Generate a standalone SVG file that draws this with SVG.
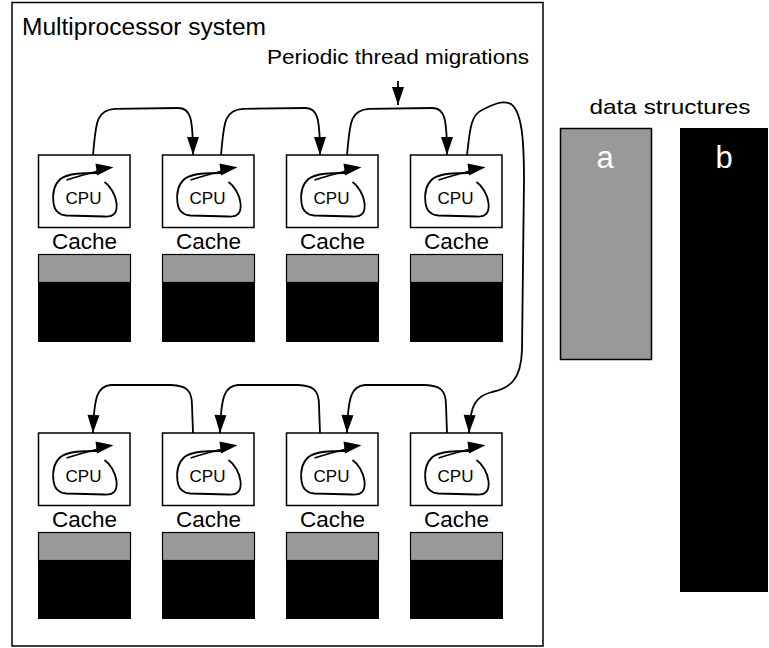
<svg xmlns="http://www.w3.org/2000/svg" xmlns:xlink="http://www.w3.org/1999/xlink" width="769" height="648" viewBox="0 0 769 648">
<style>
  text { font-family: "Liberation Sans", Arial, Helvetica, sans-serif; fill: #000; }
  .box { fill: #fff; stroke: #000; stroke-width: 1.5; }
  .loop { fill: none; stroke: #000; stroke-width: 1.8; }
  .cpu { font-size: 17px; text-anchor: middle; }
  .cache { font-size: 22px; text-anchor: middle; }
  .gray { fill: #999; stroke: #000; stroke-width: 1.2; }
  .blk { fill: #000; }
  .conn { fill: none; stroke: #000; stroke-width: 1.8; marker-end: url(#ah); }
</style>
<defs>
  <marker id="ah" markerUnits="userSpaceOnUse" markerWidth="18" markerHeight="12" refX="18" refY="6" orient="auto" overflow="visible">
    <path d="M0,0 L18,6 L0,12 z" fill="#000"/>
  </marker>
  <g id="cpuunit">
    <rect class="box" x="0" y="0" width="91.5" height="72.5"/>
    <path class="loop" d="M 59 18 C 45 18, 30 18, 22 24 C 15 30, 14 40, 15 48 C 16 56, 20 60, 28 60.5 L 66 61.5 C 76 62, 79 57, 78 48 C 77 40, 72 31, 66 27"/>
    <path class="loop" d="M 28 25 Q 42 20.5 60 16"/>
    <path d="M 57 8.5 L 75 12.3 L 58.5 20.5 z" fill="#000"/>
    <text class="cpu" x="45" y="48.5">CPU</text>
  </g>
</defs>

<rect x="12" y="2.5" width="531" height="643.5" fill="#fff" stroke="#000" stroke-width="1.5"/>
<text x="22" y="35" font-size="23" textLength="244" lengthAdjust="spacingAndGlyphs">Multiprocessor system</text>
<text x="267" y="64" font-size="21" textLength="262" lengthAdjust="spacingAndGlyphs">Periodic thread migrations</text>

<g id="node1">
  <use xlink:href="#cpuunit" x="38.5" y="155"/>
  <text class="cache" x="84.5" y="249" textLength="65" lengthAdjust="spacingAndGlyphs">Cache</text>
  <rect class="gray" x="38.5" y="254.5" width="92" height="28"/>
  <rect class="blk" x="38" y="282" width="93" height="60"/>
</g>
<g id="node2">
  <use xlink:href="#cpuunit" x="162.5" y="155"/>
  <text class="cache" x="208.5" y="249" textLength="65" lengthAdjust="spacingAndGlyphs">Cache</text>
  <rect class="gray" x="162.5" y="254.5" width="92" height="28"/>
  <rect class="blk" x="162" y="282" width="93" height="60"/>
</g>
<g id="node3">
  <use xlink:href="#cpuunit" x="286.5" y="155"/>
  <text class="cache" x="332.5" y="249" textLength="65" lengthAdjust="spacingAndGlyphs">Cache</text>
  <rect class="gray" x="286.5" y="254.5" width="92" height="28"/>
  <rect class="blk" x="286" y="282" width="93" height="60"/>
</g>
<g id="node4">
  <use xlink:href="#cpuunit" x="410.5" y="155"/>
  <text class="cache" x="456.5" y="249" textLength="65" lengthAdjust="spacingAndGlyphs">Cache</text>
  <rect class="gray" x="410.5" y="254.5" width="92" height="28"/>
  <rect class="blk" x="410" y="282" width="93" height="60"/>
</g>
<g id="node5">
  <use xlink:href="#cpuunit" x="38.5" y="433"/>
  <text class="cache" x="84.5" y="527" textLength="65" lengthAdjust="spacingAndGlyphs">Cache</text>
  <rect class="gray" x="38.5" y="532.5" width="92" height="28"/>
  <rect class="blk" x="38" y="560" width="93" height="59"/>
</g>
<g id="node6">
  <use xlink:href="#cpuunit" x="162.5" y="433"/>
  <text class="cache" x="208.5" y="527" textLength="65" lengthAdjust="spacingAndGlyphs">Cache</text>
  <rect class="gray" x="162.5" y="532.5" width="92" height="28"/>
  <rect class="blk" x="162" y="560" width="93" height="59"/>
</g>
<g id="node7">
  <use xlink:href="#cpuunit" x="286.5" y="433"/>
  <text class="cache" x="332.5" y="527" textLength="65" lengthAdjust="spacingAndGlyphs">Cache</text>
  <rect class="gray" x="286.5" y="532.5" width="92" height="28"/>
  <rect class="blk" x="286" y="560" width="93" height="59"/>
</g>
<g id="node8">
  <use xlink:href="#cpuunit" x="410.5" y="433"/>
  <text class="cache" x="456.5" y="527" textLength="65" lengthAdjust="spacingAndGlyphs">Cache</text>
  <rect class="gray" x="410.5" y="532.5" width="92" height="28"/>
  <rect class="blk" x="410" y="560" width="93" height="59"/>
</g>

<g id="data-structures">
  <text x="670" y="114" font-size="21" text-anchor="middle" textLength="161" lengthAdjust="spacingAndGlyphs">data structures</text>
  <g id="struct-a">
    <rect x="560.5" y="128.5" width="91" height="231" fill="#999" stroke="#000" stroke-width="1.5"/>
    <text x="605" y="168" font-size="31" text-anchor="middle" style="fill:#fff">a</text>
  </g>
  <g id="struct-b">
    <rect x="680" y="128" width="88" height="464" fill="#000"/>
    <text x="724" y="168" font-size="31" text-anchor="middle" style="fill:#fff">b</text>
  </g>
</g>

<g id="connectors">
  <path class="conn" d="M 93 155 C 96 125, 95 110, 115 108.8 L 178 108 C 190 108, 193 116, 193 155"/>
  <path class="conn" d="M 221 155 C 224 125, 223 110, 243 108.8 L 305 108 C 317 108, 320 116, 320 155"/>
  <path class="conn" d="M 347 155 C 350 125, 349 110, 369 108.8 L 432 108 C 444 108, 447 116, 447 155"/>
  <path class="conn" d="M 467 155 C 470 128, 471 115, 482 110 C 494 104, 502 100, 511 104 C 522 112, 524 140, 524 180 L 522 350 C 521 380, 510 388, 492 392 C 476 396, 470 405, 469 433"/>
  <path class="conn" d="M 447 433 L 446 405 C 446 390, 440 385.5, 425 385 L 365 385 C 352 386, 348 395, 347 433"/>
  <path class="conn" d="M 320 433 L 319 405 C 319 390, 313 385.5, 298 385 L 238 385 C 225 386, 221 395, 220 433"/>
  <path class="conn" d="M 193 433 L 192 405 C 192 390, 186 385.5, 171 385 L 111 385 C 98 386, 94 395, 93 433"/>
  <path class="conn" d="M 398 81 L 398 105"/>
</g>
</svg>
